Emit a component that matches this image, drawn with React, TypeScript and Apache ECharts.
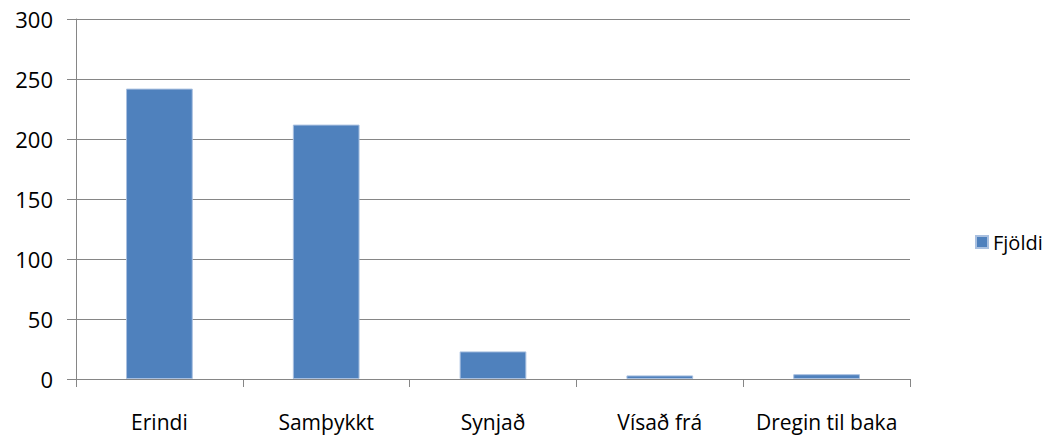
import React, { useEffect, useRef } from "react";
import * as echarts from "echarts";

const categories = ["Erindi", "Samþykkt", "Synjað", "Vísað frá", "Dregin til baka"];
const values = [242, 212, 23, 3, 4];
const seriesName = "Fjöldi";

export default function App() {
  const ref = useRef<HTMLDivElement>(null);
  useEffect(() => {
    if (!ref.current) return;
    const chart = echarts.init(ref.current, null, { renderer: "svg" });
    const font = "'Open Sans', 'DejaVu Sans', sans-serif";
    chart.setOption({
      animation: false,
      textStyle: { fontFamily: font },
      grid: { left: 76, right: 138, top: 19, bottom: 60, containLabel: false },
      legend: {
        data: [seriesName],
        left: 970,
        top: 227,
        itemWidth: 12,
        itemHeight: 12,
        itemGap: 6,
        icon: "rect",
        textStyle: { fontSize: 20, color: "#000", fontFamily: font },
      },
      xAxis: {
        type: "category",
        data: categories,
        axisLine: { lineStyle: { color: "#868686", width: 1 } },
        axisTick: { show: true, length: 8, alignWithLabel: false, lineStyle: { color: "#868686" } },
        axisLabel: { color: "#000", fontSize: 21, margin: 32, interval: 0, fontFamily: font },
      },
      yAxis: {
        type: "value",
        min: 0,
        max: 300,
        interval: 50,
        axisLine: { show: true, lineStyle: { color: "#868686" } },
        axisTick: { show: true, inside: false, length: 9, lineStyle: { color: "#868686" } },
        axisLabel: { color: "#000", fontSize: 22, margin: 23, fontFamily: font },
        splitLine: { show: true, lineStyle: { color: "#868686", width: 1 } },
      },
      series: [
        {
          name: seriesName,
          type: "bar",
          data: values,
          barWidth: "40%",
          itemStyle: { color: "#4F81BD", borderColor: "#A9C0E0", borderWidth: 1 },
        },
      ],
    });
    return () => chart.dispose();
  }, []);
  return <div ref={ref} style={{ width: 1048, height: 439, position: "absolute", left: 0, top: 0 }} />;
}
